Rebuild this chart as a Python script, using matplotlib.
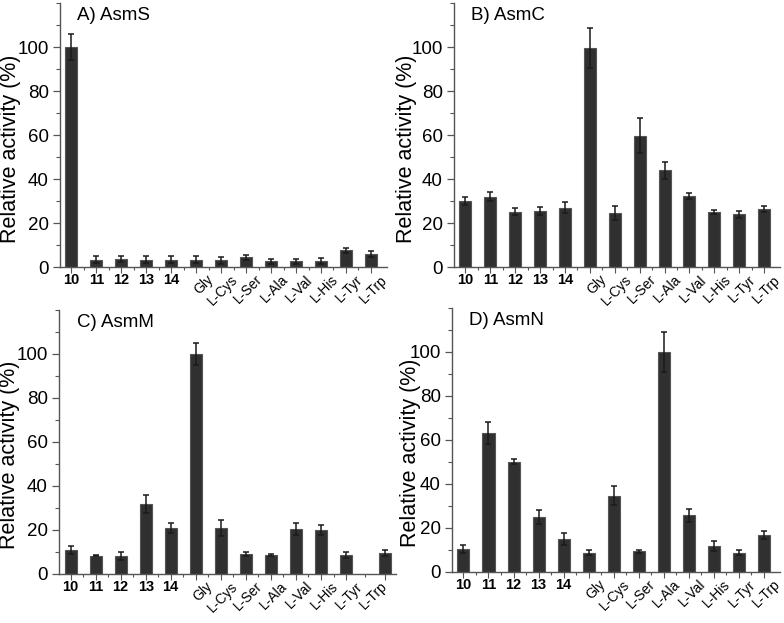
import numpy as np
import matplotlib
import matplotlib.pyplot as plt
from matplotlib.ticker import MultipleLocator

matplotlib.use('Agg')
plt.rcParams['font.family'] = ['Liberation Sans', 'DejaVu Sans']

# Substrate labels (first five are compound numbers)
labels = ['10', '11', '12', '13', '14', 'Gly', 'L-Cys', 'L-Ser',
          'L-Ala', 'L-Val', 'L-His', 'L-Tyr', 'L-Trp']

# Relative activity (%) and error for each enzyme
asms_vals = [100, 3.5, 3.8, 3.5, 3.5, 3.5, 3.2, 4.5, 2.7, 2.7, 2.9, 7.7, 6.0]
asms_err = [6, 1.5, 1.2, 1.5, 1.5, 1.4, 1.5, 1.2, 1.0, 1.0, 1.5, 1.2, 1.4]

asmc_vals = [30.2, 32, 25.3, 25.6, 27, 99.5, 24.7, 59.8, 44, 32.3, 25, 24, 26.5]
asmc_err = [1.9, 2, 1.7, 1.8, 2.5, 9, 3.2, 8, 4, 1.5, 1, 1.5, 1.5]

asmm_vals = [10.8, 8.3, 8.0, 31.6, 20.8, 100, 20.8, 9.1, 8.6, 20.5, 20, 8.6, 9.4]
asmm_err = [1.8, 0.3, 1.8, 4, 2.4, 5, 3.8, 0.8, 0.5, 2.7, 2.3, 1.3, 1.5]

asmn_vals = [10.5, 63, 50.1, 25, 15, 8.8, 34.7, 9.3, 100, 25.8, 11.8, 8.8, 16.8]
asmn_err = [1.8, 5, 1.3, 3.2, 2.8, 1.1, 4.4, 0.7, 9, 3, 2.3, 1.1, 1.8]

panels = [
    ('A) AsmS', asms_vals, asms_err),
    ('B) AsmC', asmc_vals, asmc_err),
    ('C) AsmM', asmm_vals, asmm_err),
    ('D) AsmN', asmn_vals, asmn_err),
]

# axes boxes in figure fractions [left, bottom, width, height]
boxes = [
    [0.0765, 0.571, 0.417, 0.424],
    [0.579, 0.571, 0.416, 0.424],
    [0.0753, 0.079, 0.43, 0.424],
    [0.5765, 0.082, 0.418, 0.424],
]
ylabel_x = [-0.119, -0.113, -0.116, -0.095]

fig = plt.figure(figsize=(7.84, 6.23), dpi=100)

for i, (title, vals, errs) in enumerate(panels):
    ax = fig.add_axes(boxes[i])
    x = np.arange(len(labels), dtype=float)
    xr = 12.64
    if i == 2:
        # in panel C the last bar sits right of its label
        x[-1] = 12.55
        xr = 13.0
    ax.bar(x, vals, width=0.48, color='#303030', edgecolor='#555555', linewidth=0.8,
           yerr=errs, error_kw=dict(ecolor='#1a1a1a', elinewidth=1.1, capsize=2.2, capthick=1.1))

    ax.set_xlim(-0.46, xr)
    ax.set_ylim(0, 120)
    ax.set_yticks(range(0, 101, 20))
    ax.yaxis.set_minor_locator(MultipleLocator(10))
    ax.set_xticks(x)
    ax.set_xticks((x[:-1] + x[1:]) / 2, minor=True)
    ax.set_xticklabels([])

    for xi, lab in zip(np.arange(len(labels)), labels):
        if lab.isdigit():
            ax.text(xi, -2.6, lab, ha='center', va='top', fontsize=10.5,
                    fontweight='bold', clip_on=False)
        else:
            ax.text(xi + 0.38, -2.4, lab, ha='right', va='top', fontsize=10,
                    rotation=45, rotation_mode='anchor', clip_on=False)

    ax.tick_params(axis='y', which='major', labelsize=13.5, length=5, width=0.9,
                   color='#555555', pad=3)
    ax.tick_params(axis='y', which='minor', length=3, width=0.8, color='#555555')
    ax.tick_params(axis='x', which='major', length=4, width=0.8, color='#555555')
    ax.tick_params(axis='x', which='minor', length=2.5, width=0.8, color='#555555')
    for s in ['top', 'right']:
        ax.spines[s].set_visible(False)
    for s in ['left', 'bottom']:
        ax.spines[s].set_color('#555555')
        ax.spines[s].set_linewidth(1.0)

    ax.set_ylabel('Relative activity (%)', fontsize=15.5)
    ax.yaxis.set_label_coords(ylabel_x[i], 0.45)
    ax.text(0.052, 0.985, title, transform=ax.transAxes, fontsize=13.5,
            ha='left', va='top')

fig.savefig('out.png', dpi=100)
